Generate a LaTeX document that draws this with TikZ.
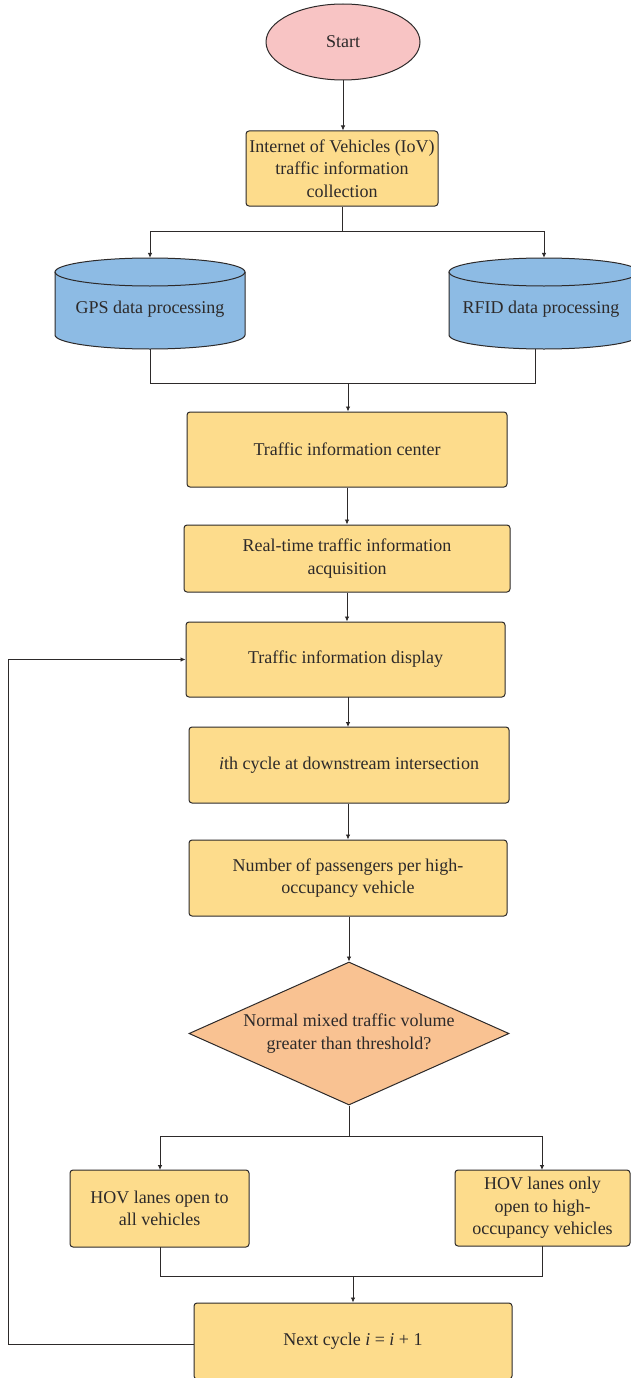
\documentclass[tikz,border=0pt]{standalone}
\usepackage{fontspec}
\setmainfont{Liberation Serif}
\usetikzlibrary{shapes.geometric,arrows.meta}
\definecolor{boxy}{RGB}{253,220,140}
\definecolor{pinkf}{RGB}{248,196,196}
\definecolor{cylblue}{RGB}{141,187,228}
\definecolor{orangef}{RGB}{249,194,146}
\definecolor{ink}{RGB}{45,42,42}
\tikzset{
  every node/.style={font=\fontsize{18}{22.5}\selectfont, text=ink, align=center},
  procbox/.style={draw=ink, line width=1pt, fill=boxy, rounded corners=3pt, inner sep=0pt},
  startell/.style={ellipse, draw=ink, line width=1pt, fill=pinkf, inner sep=0pt},
  decide/.style={diamond, draw=ink, line width=1pt, fill=orangef, inner sep=0pt},
  cylarea/.style={rectangle, draw=none, inner sep=0pt},
  plain/.style={draw=none, fill=none, inner sep=0pt},
  conn/.style={draw=ink, line width=0.8pt},
  arr/.style={conn, -{Latex[length=5pt,width=4.5pt]}},
  boxline/.style={draw=ink, line width=1pt}
}
\newcommand\drawcyl[1]{%
  \fill[cylblue] ({#1-95},-272) -- ({#1-95},-335) arc (180:360:95pt and 14pt) -- ({#1+95},-272) arc (0:180:95pt and 14pt) -- cycle;
  \draw[boxline] ({#1-95},-272) -- ({#1-95},-335) arc (180:360:95pt and 14pt) -- ({#1+95},-272);
  \draw[boxline] (#1,-272) ellipse (95pt and 14pt);
}
\begin{document}
\begin{tikzpicture}[x=1pt,y=1pt]
\clip (0,0) rectangle (631,-1378);
\fill[white] (0,0) rectangle (631,-1378);

\node[startell, minimum width=154, minimum height=76] (start) at (343,-42) {Start};
\node[procbox, minimum width=192, minimum height=75] (iov) at (342,-168.5) {Internet of Vehicles (IoV)\\traffic information\\collection};

\drawcyl{150}
\drawcyl{544}
\node[cylarea, minimum width=190, minimum height=91] (gps) at (150,-303.5) {};
\node[cylarea, minimum width=190, minimum height=91] (rfid) at (544,-303.5) {};
\node[plain] (gpst) at (150,-309) {GPS data processing};
\node[plain] (rfidt) at (541,-309) {RFID data processing};

\node[procbox, minimum width=320, minimum height=75] (tic) at (347,-449.5) {Traffic information center};
\node[procbox, minimum width=326, minimum height=67] (rt) at (347,-558.5) {Real-time traffic information\\acquisition};
\node[procbox, minimum width=319, minimum height=75] (disp) at (345.5,-659.5) {Traffic information display};
\node[procbox, minimum width=320, minimum height=76] (ith) at (349,-765) {\textit{i}th cycle at downstream intersection};
\node[procbox, minimum width=318, minimum height=76] (num) at (348,-878) {Number of passengers per high-\\occupancy vehicle};
\node[decide, minimum width=320, minimum height=143] (dec) at (349,-1033.5) {};
\node[plain] (dect) at (349,-1033.5) {Normal mixed traffic volume\\greater than threshold?};
\node[procbox, minimum width=179, minimum height=77] (hovl) at (159.5,-1208.5) {HOV lanes open to\\all vehicles};
\node[procbox, minimum width=175, minimum height=76] (hovr) at (542.5,-1208) {HOV lanes only\\open to high-\\occupancy vehicles};
\node[procbox, minimum width=318, minimum height=76] (next) at (353,-1341) {Next cycle \textit{i} = \textit{i} + 1};

% connectors
\draw[arr] (start.south) -- (start.south |- iov.north);
\coordinate (s1) at (342,-231);
\draw[conn] (iov.south) -- (s1);
\draw[arr] (s1) -| (gps.north);
\draw[arr] (s1) -| (rfid.north);
\coordinate (j1) at (348,-383);
\draw[conn] (gps.south) |- (j1);
\draw[conn] (535,-349) |- (j1);
\draw[arr] (j1) -- (j1 |- tic.north);
\draw[arr] (tic.south) -- (rt.north);
\draw[arr] (rt.south) -- (rt.south |- disp.north);
\draw[arr] (348,-697) -- (348,-727);
\draw[arr] (num.north |- ith.south) -- (num.north);
\draw[arr] (dec.north |- num.south) -- (dec.north);
\coordinate (s2) at (349,-1136);
\draw[conn] (dec.south) -- (s2);
\draw[arr] (s2) -| (160,-1170);
\draw[arr] (s2) -| (542,-1170);
\coordinate (j2) at (353,-1276);
\draw[conn] (160,-1247) |- (j2);
\draw[conn] (542,-1246) |- (j2);
\draw[arr] (j2) -- (next.north);
\coordinate (lp) at (8,-1344);
\draw[arr] (next.west |- lp) -- (lp) |- (disp.west);
\end{tikzpicture}
\end{document}
